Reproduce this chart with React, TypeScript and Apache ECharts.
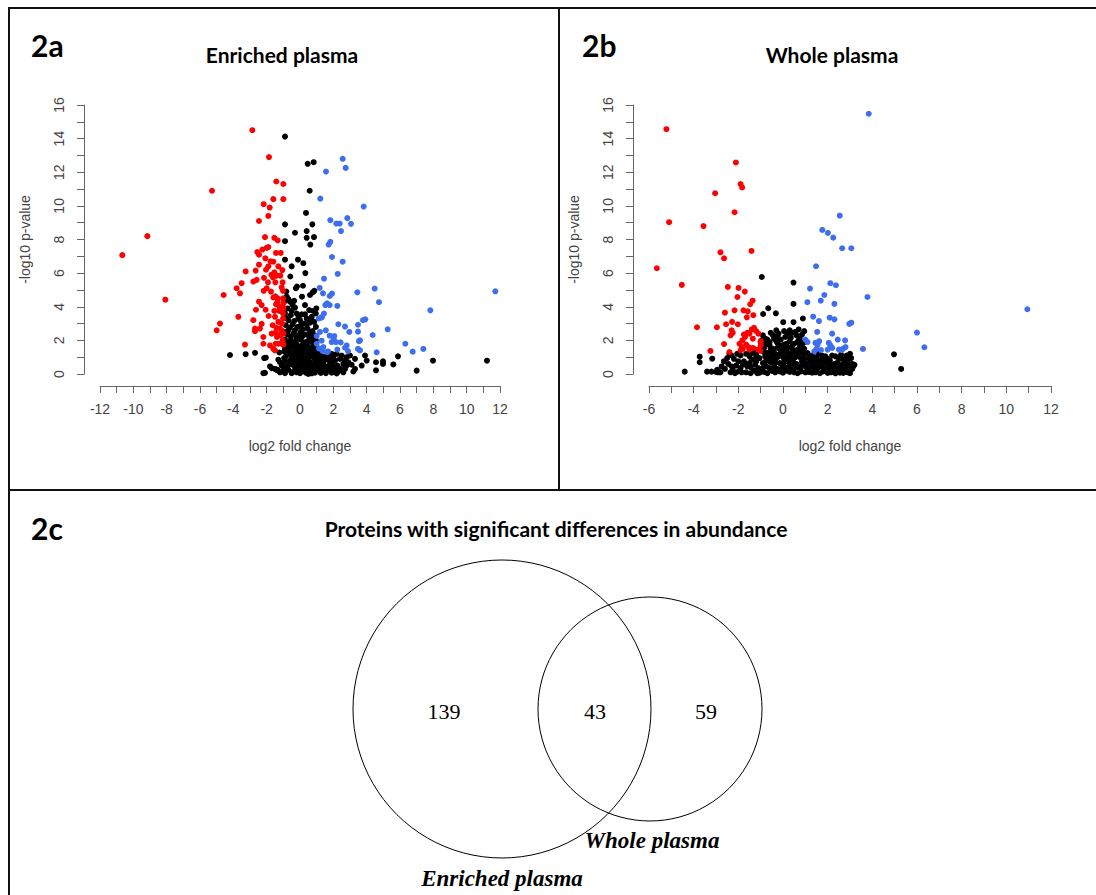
import React, { useEffect, useRef } from "react";
import * as echarts from "echarts";

// ---------- Panel 2a: Enriched plasma (log2 FC, -log10 p) ----------
const enrichedDown: number[][] = [
  [-2.86, 14.5], [-1.86, 12.9], [-5.28, 10.9], [-1.42, 11.45], [-1.0, 11.3], [-1.6, 10.4], [-1.0, 10.4],
  [-2.18, 10.1], [-1.82, 9.9], [-1.9, 9.4], [-2.46, 9.1], [-9.16, 8.2], [-10.66, 7.07], [-8.08, 4.42],
  [-2.1, 8.14], [-1.54, 8.1], [-1.34, 7.95], [-2.0, 7.5], [-1.9, 7.55], [-2.26, 7.4], [-2.56, 7.25],
  [-2.46, 7.1], [-1.44, 7.2], [-1.16, 7.2], [-2.08, 6.88], [-1.77, 6.7], [-1.6, 6.68], [-2.46, 6.5],
  [-2.66, 6.15], [-2.04, 6.2], [-1.54, 6.05], [-1.06, 6.18], [-3.26, 6.1], [-2.16, 5.72], [-1.62, 5.75],
  [-1.4, 5.85], [-1.18, 5.85], [-2.6, 5.6], [-2.8, 5.5], [-1.92, 5.45], [-1.48, 5.45], [-1.04, 5.45],
  [-3.5, 5.4], [-3.8, 5.1], [-2.18, 4.95], [-1.02, 4.95], [-3.6, 4.8], [-4.58, 4.7], [-1.6, 4.55],
  [-1.48, 4.62], [-1.34, 4.5], [-1.34, 4.3], [-1.44, 4.15], [-1.24, 4.0], [-2.46, 4.3], [-1.02, 4.5],
  [-1.0, 4.2], [-1.0, 3.9], [-1.02, 3.6], [-2.64, 3.82], [-2.06, 3.82], [-1.54, 3.75], [-1.24, 3.75],
  [-1.12, 3.75], [-3.7, 3.4], [-1.88, 3.45], [-1.02, 3.3], [-2.8, 3.2], [-4.8, 3.0], [-5.0, 2.6],
  [-2.3, 2.98], [-2.7, 2.7], [-2.4, 2.7], [-1.64, 2.9], [-1.42, 2.75], [-1.22, 2.7], [-1.08, 3.0],
  [-1.48, 2.45], [-1.34, 2.35], [-1.18, 2.3], [-1.38, 2.2], [-2.7, 2.55], [-1.04, 2.0], [-3.3, 1.75],
  [-2.2, 1.8], [-1.8, 1.7], [-1.46, 1.8], [-1.28, 1.8], [-1.06, 1.78], [-1.6, 1.5], [-1.0, 2.4],
  [-1.0, 1.75], [-1.1, 2.6], [-1.7, 2.4], [-1.5, 3.4], [-1.3, 3.1], [-2.0, 5.1], [-1.72, 5.9],
  [-1.9, 6.4], [-1.3, 6.4], [-1.74, 4.9], [-2.3, 4.1], [-1.1, 5.15], [-1.5, 1.4], [-2.2, 2.2],
];

const enrichedUp: number[][] = [
  [2.56, 12.8], [2.74, 12.26], [1.56, 12.04], [1.22, 10.43], [3.82, 9.96], [1.82, 9.15], [2.18, 8.95],
  [2.38, 8.95], [2.84, 9.27], [3.06, 8.93], [2.46, 8.5], [1.72, 7.7], [1.82, 7.86], [1.92, 6.96],
  [2.56, 6.68], [2.26, 5.95], [1.44, 5.67], [1.18, 5.12], [1.38, 4.8], [1.78, 4.64], [1.92, 4.78],
  [3.44, 4.86], [4.48, 5.08], [4.74, 4.27], [11.72, 4.92], [7.82, 3.79], [1.52, 4.1], [1.62, 4.2],
  [1.78, 4.1], [2.24, 4.05], [1.44, 3.6], [1.28, 3.35], [1.12, 3.3], [1.32, 3.4], [3.92, 3.25],
  [3.78, 3.2], [3.48, 2.93], [3.48, 2.52], [2.3, 2.96], [2.7, 2.82], [2.96, 2.5], [4.36, 2.32],
  [5.26, 2.66], [3.6, 2.0], [3.54, 1.95], [3.48, 1.49], [4.6, 1.29], [6.32, 1.8], [6.76, 1.33],
  [7.4, 1.49], [2.02, 2.1], [1.9, 1.9], [2.16, 1.9], [2.44, 1.88], [1.78, 2.28], [2.06, 2.26],
  [1.3, 1.98], [1.4, 1.6], [1.14, 1.52], [1.34, 1.38], [1.62, 1.3], [1.68, 1.34], [2.24, 1.45],
  [2.7, 1.56], [2.8, 1.7], [2.88, 1.36], [1.0, 2.26], [1.0, 1.8], [3.6, 1.4], [1.2, 2.5], [1.55, 2.6],
];

const enrichedOther: number[][] = [
  [-0.9, 14.12], [0.46, 12.5], [0.82, 12.6], [0.58, 10.9], [0.36, 9.58], [-0.9, 8.9], [0.74, 8.9],
  [-0.3, 8.4], [0.4, 8.5], [0.4, 8.1], [0.84, 8.14], [0.62, 7.7], [-0.9, 7.9], [-0.12, 6.8], [0.2, 6.59],
  [0.32, 6.0], [-0.9, 6.8], [-0.5, 6.4], [-0.58, 5.8], [-0.25, 5.1], [-0.18, 5.2], [0.18, 5.25],
  [-0.82, 4.9], [0.12, 4.6], [0.6, 4.7], [0.76, 4.85], [0.86, 4.95],
  [-0.8, 4.6], [-0.6, 4.3], [-0.45, 4.1], [-0.75, 3.9], [-0.3, 3.95], [-0.9, 3.6], [-0.55, 3.5],
  [-0.2, 3.6], [0.1, 3.55], [0.4, 3.3], [0.7, 3.4], [0.95, 3.6], [0.98, 3.9], [-0.7, 3.2], [-0.35, 3.15],
  [0.0, 3.2], [0.25, 3.0], [0.6, 3.05], [0.85, 3.1], [-0.85, 2.9], [-0.6, 2.75], [-0.15, 2.8],
  [0.15, 2.65], [0.45, 2.7], [0.75, 2.55], [-0.95, 2.5], [-0.75, 2.35], [-0.4, 2.4], [-0.1, 2.3],
  [0.3, 2.35], [0.55, 2.2], [0.9, 2.3], [-0.9, 2.05], [-0.55, 2.0], [-0.25, 1.95], [0.05, 2.05],
  [0.35, 1.9], [0.65, 1.95], [0.95, 2.0],
  [-0.8, 1.7], [-0.5, 1.65], [-0.2, 1.75], [0.1, 1.6], [0.4, 1.7], [0.7, 1.55], [0.95, 1.65],
  [-0.95, 1.35], [-0.65, 1.4], [-0.35, 1.3], [-0.05, 1.45], [0.25, 1.35], [0.55, 1.3], [0.85, 1.4],
  [1.2, 1.25], [-0.85, 1.05], [-0.55, 1.1], [-0.25, 1.0], [0.05, 1.1], [0.35, 1.0], [0.65, 1.05],
  [0.95, 1.0], [1.3, 1.05], [1.6, 1.1], [1.9, 0.95], [-1.3, 0.85], [-0.9, 0.75], [-0.6, 0.8],
  [-0.3, 0.7], [0.0, 0.8], [0.3, 0.75], [0.6, 0.7], [0.9, 0.8], [1.2, 0.75], [1.5, 0.85], [1.8, 0.7],
  [2.1, 0.8], [2.4, 0.9], [-1.1, 0.5], [-0.75, 0.45], [-0.45, 0.55], [-0.15, 0.5], [0.15, 0.45],
  [0.45, 0.55], [0.75, 0.5], [1.05, 0.45], [1.35, 0.5], [1.65, 0.45], [1.95, 0.55], [2.25, 0.5],
  [2.6, 0.6], [-1.4, 0.25], [-1.0, 0.2], [-0.7, 0.25], [-0.4, 0.15], [-0.1, 0.25], [0.2, 0.2],
  [0.5, 0.15], [0.8, 0.25], [1.1, 0.2], [1.4, 0.15], [1.7, 0.25], [2.0, 0.2], [2.3, 0.15], [2.6, 0.1],
  [-0.9, 0.05], [-0.5, 0.05], [0.0, 0.05], [0.35, 0.08], [0.7, 0.04], [1.25, 0.06], [1.55, 0.05],
  [-4.2, 1.13], [-3.26, 1.18], [-2.7, 1.26], [-2.1, 0.07], [-2.2, 0.05], [-1.8, 0.45], [-1.7, 0.35],
  [-1.5, 0.3], [-1.35, 0.25], [-1.24, 1.28], [-2.15, 0.95], [-2.05, 0.97], [-1.06, 0.5], [7.98, 0.79],
  [11.22, 0.79], [7.0, 0.2], [5.88, 1.05], [5.6, 0.57], [4.98, 0.75], [4.98, 0.6], [4.56, 0.7],
  [4.56, 0.22], [3.9, 1.1], [3.3, 0.9], [3.1, 0.55], [2.8, 1.0], [2.7, 0.3], [3.2, 0.15], [4.0, 0.8],
  [3.7, 0.5], [2.9, 0.7], [3.3, 0.3], [2.2, 1.2], [1.9, 1.2], [-0.7, 1.2], [0.5, 1.2], [-0.2, 0.95],
  [-0.95, 4.3], [-0.7, 4.45], [-0.35, 4.35], [0.3, 4.1], [0.55, 3.8], [0.8, 3.75], [-0.5, 3.75],
  [-0.1, 3.35], [0.3, 3.55], [0.65, 3.25], [-0.85, 3.35], [-0.45, 2.95], [0.05, 2.9], [0.4, 2.95],
  [0.95, 2.8], [-0.7, 2.6], [-0.3, 2.6], [0.05, 2.5], [0.6, 2.45], [-0.55, 2.2], [-0.2, 2.15],
  [0.15, 2.25], [0.75, 2.2], [-0.7, 1.85], [-0.35, 1.85], [0.2, 1.85], [0.5, 1.95], [0.8, 1.85],
  [-0.9, 1.55], [-0.6, 1.55], [-0.3, 1.55], [0.0, 1.65], [0.3, 1.55], [0.55, 1.6], [0.85, 1.55],
  [-0.75, 1.25], [-0.45, 1.2], [-0.15, 1.3], [0.15, 1.25], [0.4, 1.35], [0.75, 1.2], [1.0, 1.2],
  [-0.95, 0.95], [-0.4, 0.9], [0.2, 0.9], [0.5, 0.9], [0.8, 1.0], [1.1, 0.9], [1.45, 1.0], [1.7, 0.9],
  [2.0, 1.0], [2.5, 1.1], [2.7, 0.8], [3.0, 1.1], [-0.8, 0.35], [-0.3, 0.4], [0.3, 0.3], [0.6, 0.35],
  [0.95, 0.35], [1.25, 0.3], [1.55, 0.35], [1.85, 0.4], [2.15, 0.35], [2.45, 0.3], [2.8, 0.5],
  [-1.2, 0.1], [-0.2, 0.1], [0.5, 0.0], [0.9, 0.08], [1.9, 0.08], [2.2, 0.03], [-0.6, 0.6], [0.1, 0.65],
  [1.0, 0.6], [1.4, 0.65], [-1.2, 0.7],
];

// ---------- Panel 2b: Whole plasma ----------
const wholeDown: number[][] = [
  [-5.22, 14.56], [-2.11, 12.58], [-1.9, 11.3], [-1.83, 11.1], [-3.04, 10.75], [-2.17, 9.62],
  [-5.1, 9.03], [-3.56, 8.8], [-2.8, 7.24], [-2.64, 6.88], [-1.41, 7.32], [-5.65, 6.29], [-4.53, 5.3],
  [-2.47, 5.18], [-1.99, 5.12], [-1.71, 4.9], [-2.04, 4.58], [-1.36, 4.36], [-1.47, 4.15], [-2.6, 3.65],
  [-2.17, 3.79], [-1.77, 3.79], [-1.58, 3.73], [-1.62, 3.37], [-1.33, 3.5], [-2.55, 2.96], [-2.28, 3.1],
  [-3.85, 2.78], [-2.96, 2.78], [-2.02, 2.96], [-2.3, 2.6], [-2.25, 2.45], [-2.35, 2.3], [-1.75, 2.35],
  [-1.6, 2.45], [-1.7, 2.2], [-1.82, 2.0], [-1.5, 2.4], [-1.35, 2.1], [-1.3, 2.75], [-1.2, 2.55],
  [-1.4, 2.65], [-1.1, 2.4], [-1.0, 1.95], [-2.64, 1.78], [-1.95, 1.8], [-1.85, 1.6], [-1.8, 1.5],
  [-1.65, 1.75], [-1.55, 1.6], [-1.5, 1.45], [-1.35, 1.55], [-1.12, 1.45], [-1.0, 1.7], [-3.25, 1.37],
  [-2.4, 1.31], [-1.02, 1.38], [-1.9, 1.4],
];

const wholeUp: number[][] = [
  [3.84, 15.48], [2.54, 9.42], [1.76, 8.57], [2.01, 8.39], [2.25, 8.11], [2.65, 7.48], [3.06, 7.48],
  [1.48, 6.41], [2.12, 5.4], [2.37, 5.28], [1.21, 5.08], [1.85, 4.7], [1.69, 4.36], [1.09, 4.27],
  [2.3, 4.17], [3.78, 4.58], [1.35, 3.41], [1.61, 3.15], [2.09, 3.35], [2.3, 3.25], [2.97, 2.98],
  [3.06, 3.05], [1.53, 2.5], [2.2, 2.4], [10.94, 3.85], [6.0, 2.46], [6.33, 1.59], [3.58, 1.49],
  [1.0, 2.05], [1.1, 1.9], [1.45, 1.85], [1.62, 1.95], [1.55, 1.75], [2.05, 1.85], [2.12, 1.7],
  [2.45, 2.05], [2.78, 2.0], [2.0, 1.45], [2.2, 1.55], [2.5, 1.45], [2.68, 1.5], [2.62, 1.42],
  [1.4, 1.35], [1.5, 1.5], [1.7, 1.42], [2.8, 1.6],
];

const wholeOther: number[][] = [
  [-0.95, 5.77], [0.47, 5.44], [0.47, 4.17], [-0.66, 3.91], [-0.89, 3.57], [-0.32, 3.61], [0.01, 3.08],
  [0.47, 3.08], [0.89, 3.3], [-4.4, 0.14], [-3.73, 1.03], [-3.73, 0.7], [-3.17, 0.91], [-3.4, 0.14],
  [-3.2, 0.14], [-2.9, 0.1], [-2.8, 0.1], [4.97, 1.17], [5.29, 0.3],
  [0.7, 2.65], [0.55, 2.5], [0.3, 2.6], [-0.2, 2.4], [-0.55, 2.45], [-0.9, 2.3], [0.1, 2.2], [-0.4, 2.1],
  [0.35, 2.15], [0.75, 2.1], [-0.7, 2.05], [0.95, 2.55], [-1.0, 1.9], [-0.25, 1.85], [0.05, 1.75],
  [0.5, 1.8], [0.85, 1.75], [-0.6, 1.7], [1.1, 1.25], [-0.85, 1.55], [-0.45, 1.5], [-0.1, 1.45],
  [0.25, 1.55], [0.65, 1.45], [0.95, 1.5], [-1.2, 1.2], [-0.75, 1.25], [-0.35, 1.2], [0.0, 1.3],
  [0.4, 1.2], [0.75, 1.25], [1.3, 1.1], [1.6, 1.2], [1.9, 1.05], [2.2, 1.1], [2.5, 0.95], [2.85, 1.1],
  [3.0, 1.2], [-1.5, 1.05], [-1.9, 1.1], [-2.2, 0.9], [-2.5, 0.95], [-2.45, 0.6], [-2.1, 0.5],
  [-1.75, 0.75], [-1.4, 0.85], [-1.05, 0.95], [-0.65, 0.95], [-0.25, 1.0], [0.15, 0.95], [0.55, 1.0],
  [0.95, 0.9], [1.35, 0.85], [1.75, 0.9], [2.1, 0.8], [2.45, 0.7], [2.8, 0.75], [3.1, 0.6], [3.15, 0.45],
  [-2.6, 0.3], [-2.25, 0.25], [-1.9, 0.35], [-1.6, 0.45], [-1.25, 0.55], [-0.9, 0.65], [-0.55, 0.7],
  [-0.15, 0.65], [0.25, 0.7], [0.6, 0.6], [1.0, 0.65], [1.4, 0.55], [1.8, 0.6], [2.15, 0.5],
  [2.55, 0.45], [2.9, 0.4], [-2.35, 0.1], [-2.0, 0.15], [-1.65, 0.1], [-1.3, 0.2], [-0.95, 0.3],
  [-0.6, 0.35], [-0.25, 0.3], [0.1, 0.4], [0.45, 0.3], [0.8, 0.35], [1.15, 0.3], [1.5, 0.25],
  [1.85, 0.3], [2.2, 0.2], [2.5, 0.15], [2.85, 0.2], [3.0, 0.05], [-1.45, 0.05], [-1.05, 0.08],
  [-0.7, 0.05], [-0.35, 0.1], [0.0, 0.08], [0.3, 0.12], [0.65, 0.05], [1.0, 0.1], [1.3, 0.08],
  [1.65, 0.05], [2.0, 0.06], [2.35, 0.04], [2.7, 0.06], [-0.8, 0.5], [-0.4, 0.55], [0.0, 0.55],
  [0.4, 0.5], [0.85, 0.55], [1.25, 0.45], [1.6, 0.4], [2.0, 0.38], [2.35, 0.35], [2.7, 0.3],
  [-1.0, 1.4], [-1.5, 0.65], [-1.8, 0.55], [0.2, 1.1], [0.6, 1.05], [-0.5, 1.05], [-2.3, 1.1],
  [-2.75, 0.45], [-2.95, 0.25], [-3.0, 0.12], [-2.65, 0.75], [1.2, 1.0], [1.55, 0.7], [2.6, 1.15],
  [2.9, 0.9], [3.2, 0.55], [-0.3, 2.6], [-0.6, 1.3], [0.4, 2.45],
  [-0.8, 2.1], [-0.45, 2.3], [-0.1, 2.05], [0.2, 2.4], [0.6, 2.3], [0.85, 2.35], [-0.95, 2.0],
  [-0.3, 1.95], [0.3, 1.95], [0.65, 1.9], [0.95, 1.9], [-0.75, 1.8], [-0.15, 1.7], [0.15, 1.8],
  [0.4, 1.65], [0.75, 1.6], [-0.95, 1.65], [-0.55, 1.5], [-0.25, 1.55], [0.1, 1.5], [0.45, 1.4],
  [0.85, 1.35], [-0.85, 1.3], [-0.45, 1.35], [-0.15, 1.2], [0.2, 1.25], [0.55, 1.3], [0.95, 1.2],
  [-1.35, 1.25], [-1.65, 1.2], [-2.05, 1.2], [-2.4, 1.2], [-1.2, 1.0], [-0.8, 1.05], [-0.4, 0.85],
  [0.0, 1.0], [0.35, 0.9], [0.8, 0.95], [1.15, 0.95], [1.5, 1.0], [1.75, 1.1], [2.0, 0.9], [2.35, 1.05],
  [2.65, 0.9], [3.05, 0.95], [-2.0, 0.75], [-1.6, 0.6], [-1.2, 0.75], [-0.75, 0.8], [-0.35, 0.75],
  [0.05, 0.75], [0.45, 0.75], [0.85, 0.75], [1.2, 0.7], [1.65, 0.75], [2.0, 0.65], [2.3, 0.6],
  [2.65, 0.55], [2.95, 0.6], [-2.3, 0.45], [-1.45, 0.4], [-1.1, 0.35], [-0.75, 0.45], [-0.4, 0.4],
  [-0.05, 0.35], [0.3, 0.45], [0.65, 0.4], [1.05, 0.4], [1.4, 0.35], [1.75, 0.45], [2.1, 0.35],
  [2.45, 0.25], [2.75, 0.45], [3.1, 0.3], [-2.15, 0.05], [-1.85, 0.1], [-1.15, 0.05], [-0.85, 0.12],
  [-0.5, 0.18], [-0.15, 0.15], [0.15, 0.2], [0.5, 0.1], [0.8, 0.15], [1.15, 0.12], [1.45, 0.1],
  [1.8, 0.15], [2.15, 0.1], [2.55, 0.08], [2.9, 0.1], [-1.25, 1.45], [-1.5, 1.25], [-0.6, 1.9],
  [0.05, 2.55], [-0.25, 2.25], [0.7, 2.0], [1.3, 0.6], [1.9, 0.8],
];

// axis ranges / tick step
const xRangeA = [-12, 12];
const xRangeB = [-6, 12];
const yRange = [0, 16];
const tickStep = 2;

// ---------- Panel 2c: Venn ----------
const vennTitle = "Proteins with significant differences in abundance";
const vennSets = ["Enriched plasma", "Whole plasma"];
const vennCounts = [139, 43, 59]; // only enriched, both, only whole

const AXIS_COLOR = "#666";
const LABEL_COLOR = "#444";
const SANS = "'Liberation Sans', Arial, sans-serif";
const TITLE_FONT = "Lato, 'Open Sans', sans-serif";
const SERIF = "'Liberation Serif', 'Times New Roman', serif";
const RED = "#ff0000";
const BLUE = "#3e6ef0";

function makeX(gridIndex: number, range: number[]) {
  return {
    type: "value",
    gridIndex,
    min: range[0],
    max: range[1],
    interval: tickStep,
    offset: 12,
    axisLine: { show: true, onZero: false, lineStyle: { color: AXIS_COLOR, width: 1 } },
    axisTick: { show: true, length: 7, lineStyle: { color: AXIS_COLOR, width: 1 } },
    minorTick: { show: true, splitNumber: 2, length: 7, lineStyle: { color: AXIS_COLOR, width: 1 } },
    splitLine: { show: false },
    minorSplitLine: { show: false },
    axisLabel: { color: LABEL_COLOR, fontSize: 14, fontFamily: SANS, margin: 16 },
    name: "log2 fold change",
    nameLocation: "middle",
    nameGap: 53,
    nameTextStyle: { color: LABEL_COLOR, fontSize: 14, fontFamily: SANS },
  };
}

function makeY(gridIndex: number) {
  return {
    type: "value",
    gridIndex,
    min: yRange[0],
    max: yRange[1],
    interval: tickStep,
    offset: 16,
    axisLine: { show: true, onZero: false, lineStyle: { color: AXIS_COLOR, width: 1 } },
    axisTick: { show: true, length: 7, lineStyle: { color: AXIS_COLOR, width: 1 } },
    minorTick: { show: true, splitNumber: 2, length: 7, lineStyle: { color: AXIS_COLOR, width: 1 } },
    splitLine: { show: false },
    minorSplitLine: { show: false },
    axisLabel: { color: LABEL_COLOR, fontSize: 14, fontFamily: SANS, margin: 18, rotate: 90 },
    name: "-log10 p-value",
    nameLocation: "middle",
    nameRotate: 90,
    nameGap: 52,
    nameTextStyle: { color: LABEL_COLOR, fontSize: 14, fontFamily: SANS },
  };
}

function scatter(idx: number, data: number[][], color: string) {
  return {
    type: "scatter",
    xAxisIndex: idx,
    yAxisIndex: idx,
    data,
    symbolSize: 6,
    clip: false,
    silent: true,
    itemStyle: { color, opacity: 1 },
  };
}

function line(x1: number, y1: number, x2: number, y2: number) {
  return {
    type: "line",
    shape: { x1, y1, x2, y2 },
    style: { stroke: "#111", lineWidth: 2 },
    silent: true,
  };
}

function txt(text: string, x: number, y: number, font: string, opts: any = {}) {
  return {
    type: "text",
    silent: true,
    style: {
      text,
      x,
      y,
      font,
      fill: opts.fill || "#000",
      textAlign: opts.align || "center",
      textVerticalAlign: "middle",
    },
  };
}

export default function App() {
  const ref = useRef<HTMLDivElement>(null);

  useEffect(() => {
    if (!ref.current) return;
    const chart = echarts.init(ref.current, undefined, { renderer: "svg" });
    const option: any = {
      animation: false,
      backgroundColor: "#fff",
      grid: [
        { left: 100, top: 105, width: 400, height: 269 },
        { left: 649, top: 105, width: 402, height: 269 },
      ],
      xAxis: [makeX(0, xRangeA), makeX(1, xRangeB)],
      yAxis: [makeY(0), makeY(1)],
      series: [
        scatter(0, enrichedOther, "#000"),
        scatter(0, enrichedDown, RED),
        scatter(0, enrichedUp, BLUE),
        scatter(1, wholeOther, "#000"),
        scatter(1, wholeDown, RED),
        scatter(1, wholeUp, BLUE),
      ],
      graphic: [
        // panel borders
        line(9, 8, 1096, 8),
        line(9, 7, 9, 895),
        line(559, 8, 559, 490),
        line(9, 490, 1096, 490),
        // panel labels and titles
        txt("2a", 31, 45, `bold 30px ${TITLE_FONT}`, { align: "left" }),
        txt("Enriched plasma", 282, 54, `bold 21px ${TITLE_FONT}`),
        txt("2b", 582, 45, `bold 30px ${TITLE_FONT}`, { align: "left" }),
        txt("Whole plasma", 832, 54, `bold 21px ${TITLE_FONT}`),
        txt("2c", 31, 528, `bold 30px ${TITLE_FONT}`, { align: "left" }),
        txt(vennTitle, 556, 528, `bold 21px ${TITLE_FONT}`),
        // venn
        {
          type: "circle",
          silent: true,
          shape: { cx: 502, cy: 709, r: 149 },
          style: { fill: "none", stroke: "#000", lineWidth: 1 },
        },
        {
          type: "circle",
          silent: true,
          shape: { cx: 650, cy: 709, r: 112 },
          style: { fill: "none", stroke: "#000", lineWidth: 1 },
        },
        txt(String(vennCounts[0]), 444, 711, `22px ${SERIF}`),
        txt(String(vennCounts[1]), 595, 711, `22px ${SERIF}`),
        txt(String(vennCounts[2]), 706, 711, `22px ${SERIF}`),
        txt(vennSets[1], 652, 840, `italic bold 23px ${SERIF}`),
        txt(vennSets[0], 502, 878, `italic bold 23px ${SERIF}`),
      ],
    };
    chart.setOption(option);
    return () => chart.dispose();
  }, []);

  return (
    <div
      ref={ref}
      style={{ position: "absolute", left: 0, top: 0, width: 1096, height: 895, background: "#fff" }}
    />
  );
}
